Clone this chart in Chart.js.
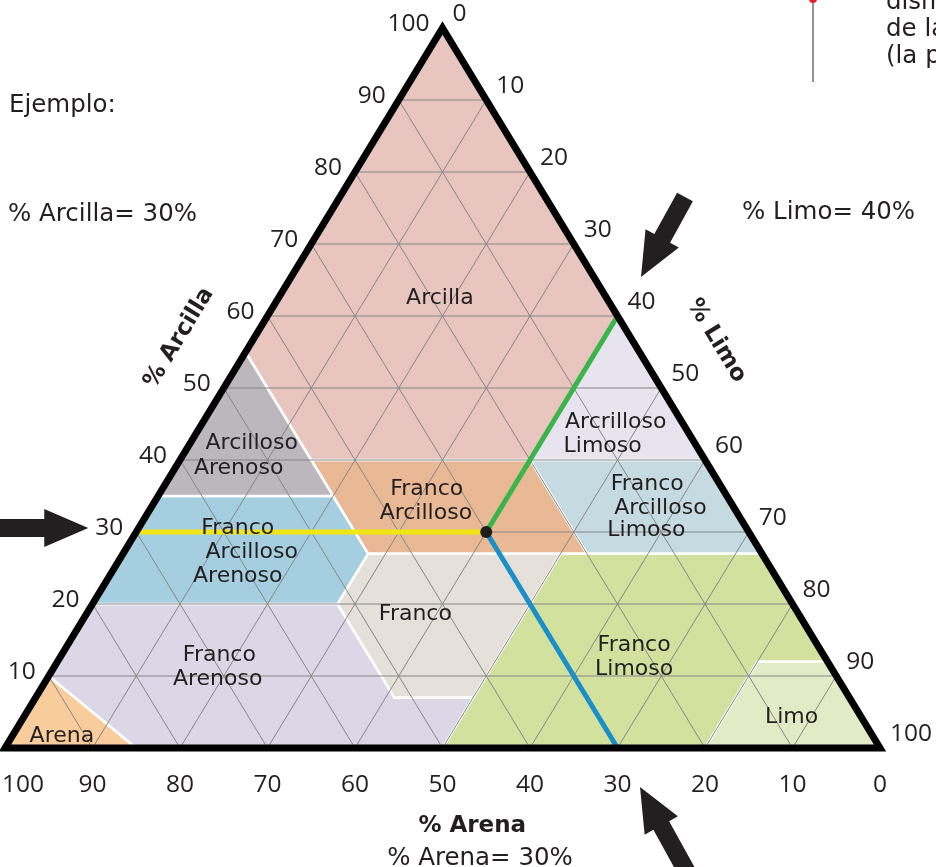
<!DOCTYPE html>
<html lang="es">
<head>
<meta charset="utf-8">
<title>Triángulo de textura del suelo</title>
<script src="https://cdn.jsdelivr.net/npm/chart.js@4.4.1/dist/chart.umd.min.js"></script>
<style>
  html, body { margin: 0; padding: 0; background: #fff; }
  #wrap { width: 936px; height: 867px; overflow: hidden; }
</style>
</head>
<body>
<div id="wrap"><canvas id="textura" width="936" height="867"></canvas></div>
<script>
// === Datos: vértices de cada clase como [arcilla, limo] (arena = 100 - arcilla - limo) ===
const clases = ['Arcilla', 'Arcilloso Arenoso', 'Franco Arcilloso', 'Franco Arcilloso Arenoso', 'Franco',
  'Franco Arenoso', 'Arena', 'Arcrilloso Limoso', 'Franco Arcilloso Limoso', 'Franco Limoso', 'Limo'];
const arcilla = [[100, 0], [55, 0], [40, 15], [40, 40], [60, 40]];
const arcillosoArenoso = [[55, 0], [35, 0], [35, 20], [40, 15]];
const francoArcilloso = [[40, 15], [40, 40], [27, 53], [27, 28]];
const francoArcillosoArenoso = [[35, 0], [35, 20], [27, 28], [20, 28], [20, 0]];
const franco = [[27, 28], [27, 50], [7, 50], [7, 41], [20, 28]];
const francoArenoso = [[20, 0], [20, 28], [7, 41], [7, 50], [0, 50], [0, 15], [10, 0]];
const arena = [[0, 0], [0, 15], [10, 0]];
const arcillosoLimoso = [[60, 40], [40, 40], [40, 60]];
const francoArcillosoLimoso = [[40, 40], [40, 60], [27, 73], [27, 53]];
const francoLimoso = [[27, 50], [27, 73], [12, 88], [12, 80], [0, 80], [0, 50]];
const limo = [[12, 80], [12, 88], [0, 100], [0, 80]];
const poligonos = [arcilla, arcillosoArenoso, francoArcilloso, francoArcillosoArenoso, franco,
  francoArenoso, arena, arcillosoLimoso, francoArcillosoLimoso, francoLimoso, limo];

const marcas = [10, 20, 30, 40, 50, 60, 70, 80, 90];           // líneas de la rejilla
const escala = [0, 10, 20, 30, 40, 50, 60, 70, 80, 90, 100];   // etiquetas de los ejes
const ejemplo = [30, 40, 30];                                   // arcilla, limo, arena

// === Estilos ===
const colores = ['#e8c5bf', '#bcb6bd', '#e9b996', '#a5cfe0', '#e5e0d9',
  '#dcd7e7', '#f9cc9b', '#e7e4f0', '#c6dae2', '#d3e19f', '#e3ebc6'];
// centro de cada línea de texto, en unidades del plano (x = limo + arcilla/2, y = arcilla)
const posEtiquetas = [
  [[49.7, 62.8]],
  [[28.2, 42.6], [26.7, 39.2]],
  [[48.2, 36.3], [48.1, 32.9]],
  [[26.6, 30.8], [28.2, 27.5], [26.6, 24.2]],
  [[46.9, 18.9]],
  [[24.5, 13.2], [24.3, 9.9]],
  [[6.5, 1.9]],
  [[69.8, 45.6], [68.3, 42.2]],
  [[73.4, 36.9], [74.9, 33.6], [73.3, 30.6]],
  [[71.9, 14.6], [71.9, 11.3]],
  [[89.9, 4.6]]
];
const FUENTE = '"DejaVu Sans", "Noto Sans", sans-serif';
const CIFRAS = '"Open Sans", "Noto Sans", sans-serif';
const TINTA = '#231f20';

const plano = ([c, s]) => ({ x: s + c / 2, y: c });

const datasets = [];
// contorno del triángulo (empieza a mitad de la base para que todas las esquinas sean uniones)
datasets.push({
  data: [[0, 50], [0, 100], [100, 0], [0, 0], [0, 50]].map(plano),
  borderColor: '#000', borderWidth: 7, borderJoinStyle: 'miter', fill: false, order: 0
});
// ejemplo
const [ca, li, ar] = ejemplo;
datasets.push({ data: [plano([ca, li])], showLine: false, pointRadius: 6,
  pointBackgroundColor: '#1d1d1b', pointBorderWidth: 0, order: 1 });
datasets.push({ data: [[ca, 0], [ca, li]].map(plano), borderColor: '#f0e614', borderWidth: 5, order: 2 });
datasets.push({ data: [[ca, li], [100 - li, li]].map(plano), borderColor: '#3ab54a', borderWidth: 5, order: 2 });
datasets.push({ data: [[ca, li], [0, 100 - ar]].map(plano), borderColor: '#1a8fca', borderWidth: 5, order: 2 });
// rejilla
marcas.forEach(m => {
  [[[m, 0], [m, 100 - m]], [[0, m], [100 - m, m]], [[0, 100 - m], [100 - m, 0]]].forEach(seg => {
    datasets.push({ data: seg.map(plano), borderColor: '#868686', borderWidth: 1, order: 5 });
  });
});
// clases
poligonos.forEach((p, i) => {
  datasets.push({
    label: clases[i], data: [...p, p[0]].map(plano), fill: 'shape',
    backgroundColor: colores[i], borderColor: '#ffffff', borderWidth: 2.5, order: 9
  });
});

function flecha(ctx, tip, tail) {
  const dx = tail[0] - tip[0], dy = tail[1] - tip[1];
  const L = Math.hypot(dx, dy), ux = dx / L, uy = dy / L, nx = -uy, ny = ux;
  const head = 44, hw = 19, sw = 9;
  const bx = tip[0] + ux * head, by = tip[1] + uy * head;
  ctx.beginPath();
  ctx.moveTo(tip[0], tip[1]);
  ctx.lineTo(bx + nx * hw, by + ny * hw);
  ctx.lineTo(bx + nx * sw, by + ny * sw);
  ctx.lineTo(tail[0] + nx * sw, tail[1] + ny * sw);
  ctx.lineTo(tail[0] - nx * sw, tail[1] - ny * sw);
  ctx.lineTo(bx - nx * sw, by - ny * sw);
  ctx.lineTo(bx - nx * hw, by - ny * hw);
  ctx.closePath();
  ctx.fill();
}

const textos = {
  id: 'textos',
  afterDatasetsDraw(chart) {
    const { ctx, scales: { x, y } } = chart;
    const px = (X, Y) => [x.getPixelForValue(X), y.getPixelForValue(Y)];
    const pt = (c, s) => px(s + c / 2, c);
    ctx.save();
    ctx.fillStyle = TINTA;
    ctx.textBaseline = 'alphabetic';

    // nombres de las clases
    ctx.font = '22px ' + FUENTE;
    ctx.textAlign = 'center';
    clases.forEach((nombre, i) => {
      nombre.split(' ').forEach((linea, j) => {
        const [lx, ly] = px(...posEtiquetas[i][j]);
        ctx.fillText(linea, lx, ly + 8);
      });
    });

    // escala de arcilla (izquierda)
    ctx.font = '24.5px ' + CIFRAS;
    ctx.textAlign = 'right';
    escala.filter(v => v > 0).forEach(v => {
      const [ex, ey] = pt(v, 0);
      ctx.fillText(String(v), ex - 13, ey + 3);
    });
    // escala de limo (derecha)
    ctx.textAlign = 'left';
    escala.forEach(v => {
      const [ex, ey] = pt(100 - v, v);
      ctx.fillText(String(v), ex + 10, ey - 7);
    });
    // escala de arena (abajo)
    ctx.textAlign = 'center';
    escala.forEach(v => {
      const [ex, ey] = pt(0, 100 - v);
      const w = ctx.measureText(String(v)).width;
      ctx.fillText(String(v), Math.max(ex, 2 + w / 2), ey + 44);
    });

    // títulos de los ejes
    const [blx, bly] = pt(0, 0), [tx, ty] = pt(100, 0), [brx, bry] = pt(0, 100);
    ctx.font = 'bold 23px ' + FUENTE;
    let [cx, cy] = px(19.7, 57.1);
    ctx.save(); ctx.translate(cx, cy); ctx.rotate(Math.atan2(ty - bly, tx - blx));
    ctx.fillText('% Arcilla', 0, 8); ctx.restore();
    [cx, cy] = px(81.5, 56.7);
    ctx.save(); ctx.translate(cx, cy); ctx.rotate(Math.atan2(bry - ty, brx - tx));
    ctx.fillText('% Limo', 0, 8); ctx.restore();
    [cx, cy] = px(53.4, -11.7);
    ctx.fillText('% Arena', cx, cy);

    // textos del ejemplo
    ctx.font = '24.5px ' + FUENTE;
    ctx.textAlign = 'left';
    ctx.fillText('Ejemplo:', 9, 112);
    ctx.fillText('% Arcilla= ' + ca + '%', 8, 221);
    ctx.fillText('% Limo= ' + li + '%', 742, 219);
    ctx.textAlign = 'center';
    ctx.fillText('% Arena= ' + ar + '%', 480, 865);

    // flechas
    ctx.fillStyle = TINTA;
    let [ax, ay] = pt(ca, 0);
    flecha(ctx, [ax - 48, ay - 4], [ax - 150, ay - 4]);
    [ax, ay] = pt(100 - li, li);
    flecha(ctx, [ax + 23.5, ay - 39], [ax + 67.5, ay - 119]);
    [ax, ay] = pt(0, 100 - ar);
    flecha(ctx, [ax + 22.5, ay + 39], [ax + 70, ay + 125]);

    // nota recortada arriba a la derecha
    ctx.strokeStyle = '#4a4a4a';
    ctx.lineWidth = 1.2;
    ctx.beginPath(); ctx.moveTo(813, 0); ctx.lineTo(813, 82); ctx.stroke();
    ctx.fillStyle = '#e2202c';
    ctx.beginPath(); ctx.arc(813, -1, 4, 0, Math.PI * 2); ctx.fill();
    ctx.fillStyle = TINTA;
    ctx.textAlign = 'left';
    ctx.fillText('disminuye', 886, 9);
    ctx.fillText('de la textura', 886, 36);
    ctx.fillText('(la parte', 886, 63);
    ctx.restore();
  }
};

new Chart(document.getElementById('textura'), {
  type: 'scatter',
  data: { datasets },
  options: {
    responsive: false,
    animation: false,
    events: [],
    layout: { padding: 0, autoPadding: false },
    elements: { point: { radius: 0 }, line: { tension: 0, borderCapStyle: 'butt' } },
    datasets: { scatter: { showLine: true } },
    scales: {
      x: { type: 'linear', min: -5 / 8.75, max: 931 / 8.75, display: false },
      y: { type: 'linear', min: -119 / 7.2, max: 748 / 7.2, display: false }
    },
    plugins: { legend: { display: false }, tooltip: { enabled: false } }
  },
  plugins: [textos]
});
</script>
</body>
</html>
